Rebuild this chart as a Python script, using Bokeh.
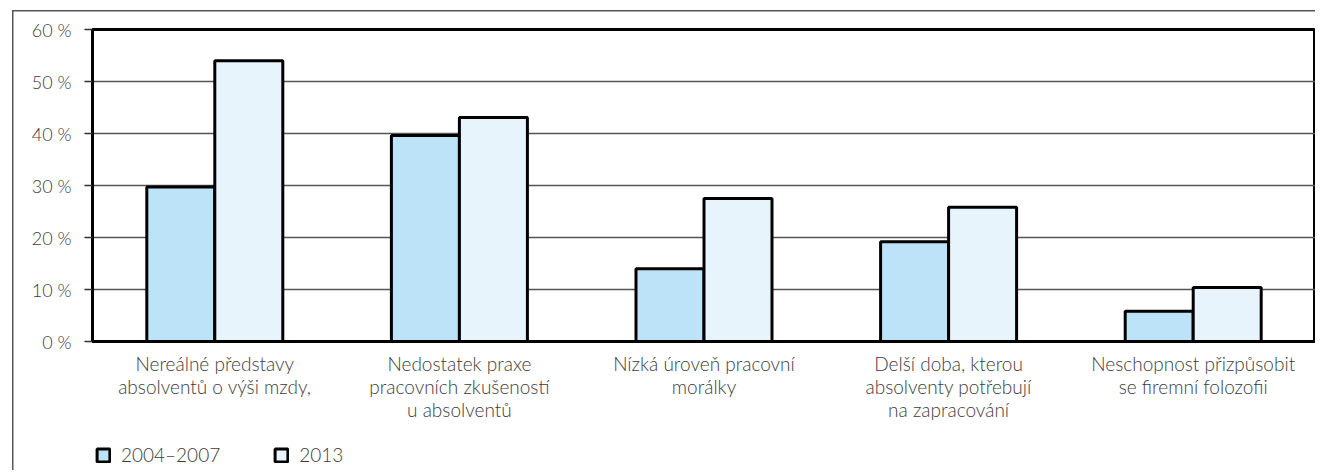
from bokeh.plotting import figure
from bokeh.layouts import column
from bokeh.models import (ColumnDataSource, FactorRange, Legend, LegendItem,
                          PrintfTickFormatter, FixedTicker)
from bokeh.transform import dodge
from bokeh.embed import file_html
from bokeh.resources import INLINE

categories = [
    "Nereálné představy\nabsolventů o výši mzdy,",
    "Nedostatek praxe\npracovních zkušeností\nu absolventů",
    "Nízká úroveň pracovní\nmorálky",
    "Delší doba, kterou\nabsolventy potřebují\nna zapracování",
    "Neschopnost přizpůsobit\nse firemní folozofii",
]
series_names = ["2004–2007", "2013"]
values_2004_2007 = [29.7, 39.6, 14.0, 19.2, 5.8]
values_2013 = [54.0, 43.1, 27.5, 25.8, 10.4]
y_ticks = [0, 10, 20, 30, 40, 50, 60]

FONT = "Lato Light"
TXT = "#3c3c3c"
COL_A = "#BDE3F8"
COL_B = "#E8F4FC"
W = 1315

src = ColumnDataSource(dict(cat=categories, a=values_2004_2007, b=values_2013))

p = figure(x_range=FactorRange(factors=categories), y_range=(0, 60),
           width=W, height=436, output_backend="svg", toolbar_location=None,
           min_border_left=92, min_border_right=0, min_border_top=29,
           min_border_bottom=95)

bw = 0.278
p.vbar(x=dodge("cat", -bw / 2, range=p.x_range), top="a", width=bw, source=src,
       fill_color=COL_A, line_color="black", line_width=3)
p.vbar(x=dodge("cat", bw / 2, range=p.x_range), top="b", width=bw, source=src,
       fill_color=COL_B, line_color="black", line_width=3)

p.border_fill_color = None
p.background_fill_color = "white"
p.styles = {
    "background": ("linear-gradient(#555,#555) 12px 10px / 1.5px 100% no-repeat, "
                   "linear-gradient(#555,#555) 12px 10px / 100% 1.5px no-repeat, white"),
}

p.outline_line_color = "black"
p.outline_line_width = 3
p.xgrid.grid_line_color = None
p.ygrid.grid_line_color = "#555555"
p.ygrid.grid_line_width = 1.5
p.ygrid.ticker = FixedTicker(ticks=y_ticks)

p.yaxis.ticker = FixedTicker(ticks=y_ticks)
p.yaxis.formatter = PrintfTickFormatter(format="%d %%")
p.yaxis.axis_line_color = "black"
p.yaxis.axis_line_width = 3
p.yaxis.major_tick_out = 8
p.yaxis.major_tick_in = 0
p.yaxis.major_tick_line_color = "#333333"
p.yaxis.major_tick_line_width = 1.5
p.yaxis.minor_tick_line_color = None
p.yaxis.major_label_standoff = 13
p.yaxis.major_label_text_font = FONT
p.yaxis.major_label_text_font_size = "18px"
p.yaxis.major_label_text_color = TXT

p.xaxis.axis_line_color = "black"
p.xaxis.axis_line_width = 3
p.xaxis.major_tick_line_color = None
p.xaxis.major_tick_out = 0
p.xaxis.major_tick_in = 0
p.xaxis.minor_tick_line_color = None
p.xaxis.major_label_standoff = 10
p.xaxis.major_label_text_font = FONT
p.xaxis.major_label_text_font_size = "19px"
p.xaxis.major_label_text_color = TXT
p.xaxis.major_label_text_line_height = 1.02
p.xaxis.major_label_text_align = "center"

# legend strip (renderers hidden, only their legend swatches are shown)
q = figure(width=W, height=34, output_backend="svg", toolbar_location=None,
           x_axis_type=None, y_axis_type=None, min_border=0,
           x_range=FactorRange(factors=categories), y_range=(0, 60))
q.outline_line_color = None
q.grid.grid_line_color = None
q.border_fill_color = None
q.background_fill_color = None
q.styles = {"background": "linear-gradient(#555,#555) 12px 0px / 1.5px 100% no-repeat, white"}
la = q.vbar(x="cat", top="a", width=bw, source=src,
            fill_color=COL_A, line_color="black", line_width=3)
lb = q.vbar(x="cat", top="b", width=bw, source=src,
            fill_color=COL_B, line_color="black", line_width=3)
la.visible = False
lb.visible = False

legend = Legend(items=[LegendItem(label=series_names[0], renderers=[la]),
                       LegendItem(label=series_names[1], renderers=[lb])],
                location=(3, 4), orientation="horizontal",
                glyph_width=16, glyph_height=16, label_standoff=10, spacing=53,
                padding=0, margin=0, border_line_color=None,
                background_fill_alpha=0, inactive_fill_alpha=0,
                label_text_font=FONT, label_text_font_size="19px",
                label_text_color=TXT)
q.add_layout(legend, "center")

layout = column(p, q, spacing=0)
open("out.html", "w").write(file_html(layout, INLINE))
